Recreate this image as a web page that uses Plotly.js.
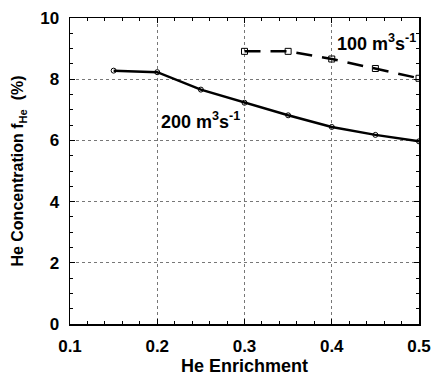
<!DOCTYPE html>
<html><head><meta charset="utf-8">
<script src="https://cdn.plot.ly/plotly-3.0.1.min.js"></script>
<style>body{margin:0;background:#fff}#c{width:431px;height:376px}</style>
</head><body><div id="c"></div>
<script>
var enrich200 = [0.15, 0.2, 0.25, 0.3, 0.35, 0.4, 0.45, 0.5];
var conc200 = [8.28, 8.23, 7.66, 7.23, 6.82, 6.44, 6.18, 5.97];
var enrich100 = [0.3, 0.35, 0.4, 0.45, 0.5];
var conc100 = [8.91, 8.91, 8.66, 8.35, 8.03];
var xTicks = [0.1, 0.2, 0.3, 0.4, 0.5];
var yTicks = [0, 2, 4, 6, 8, 10];

var F = 'Liberation Sans, Arial, sans-serif';
var traces = [
  {x: enrich200, y: conc200, mode: 'lines+markers', line: {color: '#000', width: 2.5},
   marker: {symbol: 'circle-open', size: 5, color: '#000', line: {width: 1}}},
  {x: enrich100, y: conc100, mode: 'lines+markers', line: {color: '#000', width: 2.5, dash: '16px,10px'},
   marker: {symbol: 'square-open', size: 6, color: '#000', line: {width: 1}}}
];
var axisCommon = {
  showline: true, linecolor: '#000', linewidth: 1.5, mirror: 'ticks',
  ticks: 'inside', ticklen: 5, tickcolor: '#000', tickwidth: 1,
  showgrid: true, gridcolor: '#777', griddash: 'dot', gridwidth: 1,
  zeroline: false, tickfont: {family: F, size: 17, color: '#000', weight: 'bold'},
  ticklabelstandoff: 6
};
var layout = {
  width: 431, height: 376,
  margin: {l: 70, r: 12, t: 18, b: 52},
  showlegend: false, paper_bgcolor: '#fff', plot_bgcolor: '#fff',
  xaxis: Object.assign({}, axisCommon, {range: [0.1, 0.5], tickvals: xTicks, ticktext: xTicks.map(String),
    minor: {dtick: 0.02, ticks: 'inside', ticklen: 3, tickcolor: '#000', showgrid: false}}),
  yaxis: Object.assign({}, axisCommon, {range: [0, 10], tickvals: yTicks, ticktext: yTicks.map(String),
    minor: {dtick: 0.5, ticks: 'inside', ticklen: 3, tickcolor: '#000', showgrid: false},
    title: {text: '<b>He Concentration f<sub>He</sub>  (%)</b>', font: {family: F, size: 16, color: '#000'}, standoff: 12}}),
  annotations: [
    {x: 0.5, y: -0.137, xref: 'paper', yref: 'paper', text: '<b>He Enrichment</b>', showarrow: false,
     xanchor: 'center', yanchor: 'middle', font: {family: F, size: 18, color: '#000'}},
    {x: 0.297, y: 6.66, xref: 'x', yref: 'y', text: '<b>200 m<sup>3</sup>s<sup>-1</sup></b>', showarrow: false,
     xanchor: 'right', yanchor: 'middle', font: {family: F, size: 18, color: '#000'}},
    {x: 0.5, y: 9.2, xref: 'x', yref: 'y', text: '<b>100 m<sup>3</sup>s<sup>-1</sup></b>', showarrow: false,
     xanchor: 'right', yanchor: 'middle', xshift: -1, font: {family: F, size: 18, color: '#000'}}
  ]
};
Plotly.newPlot('c', traces, layout, {displayModeBar: false, staticPlot: true});
</script></body></html>
